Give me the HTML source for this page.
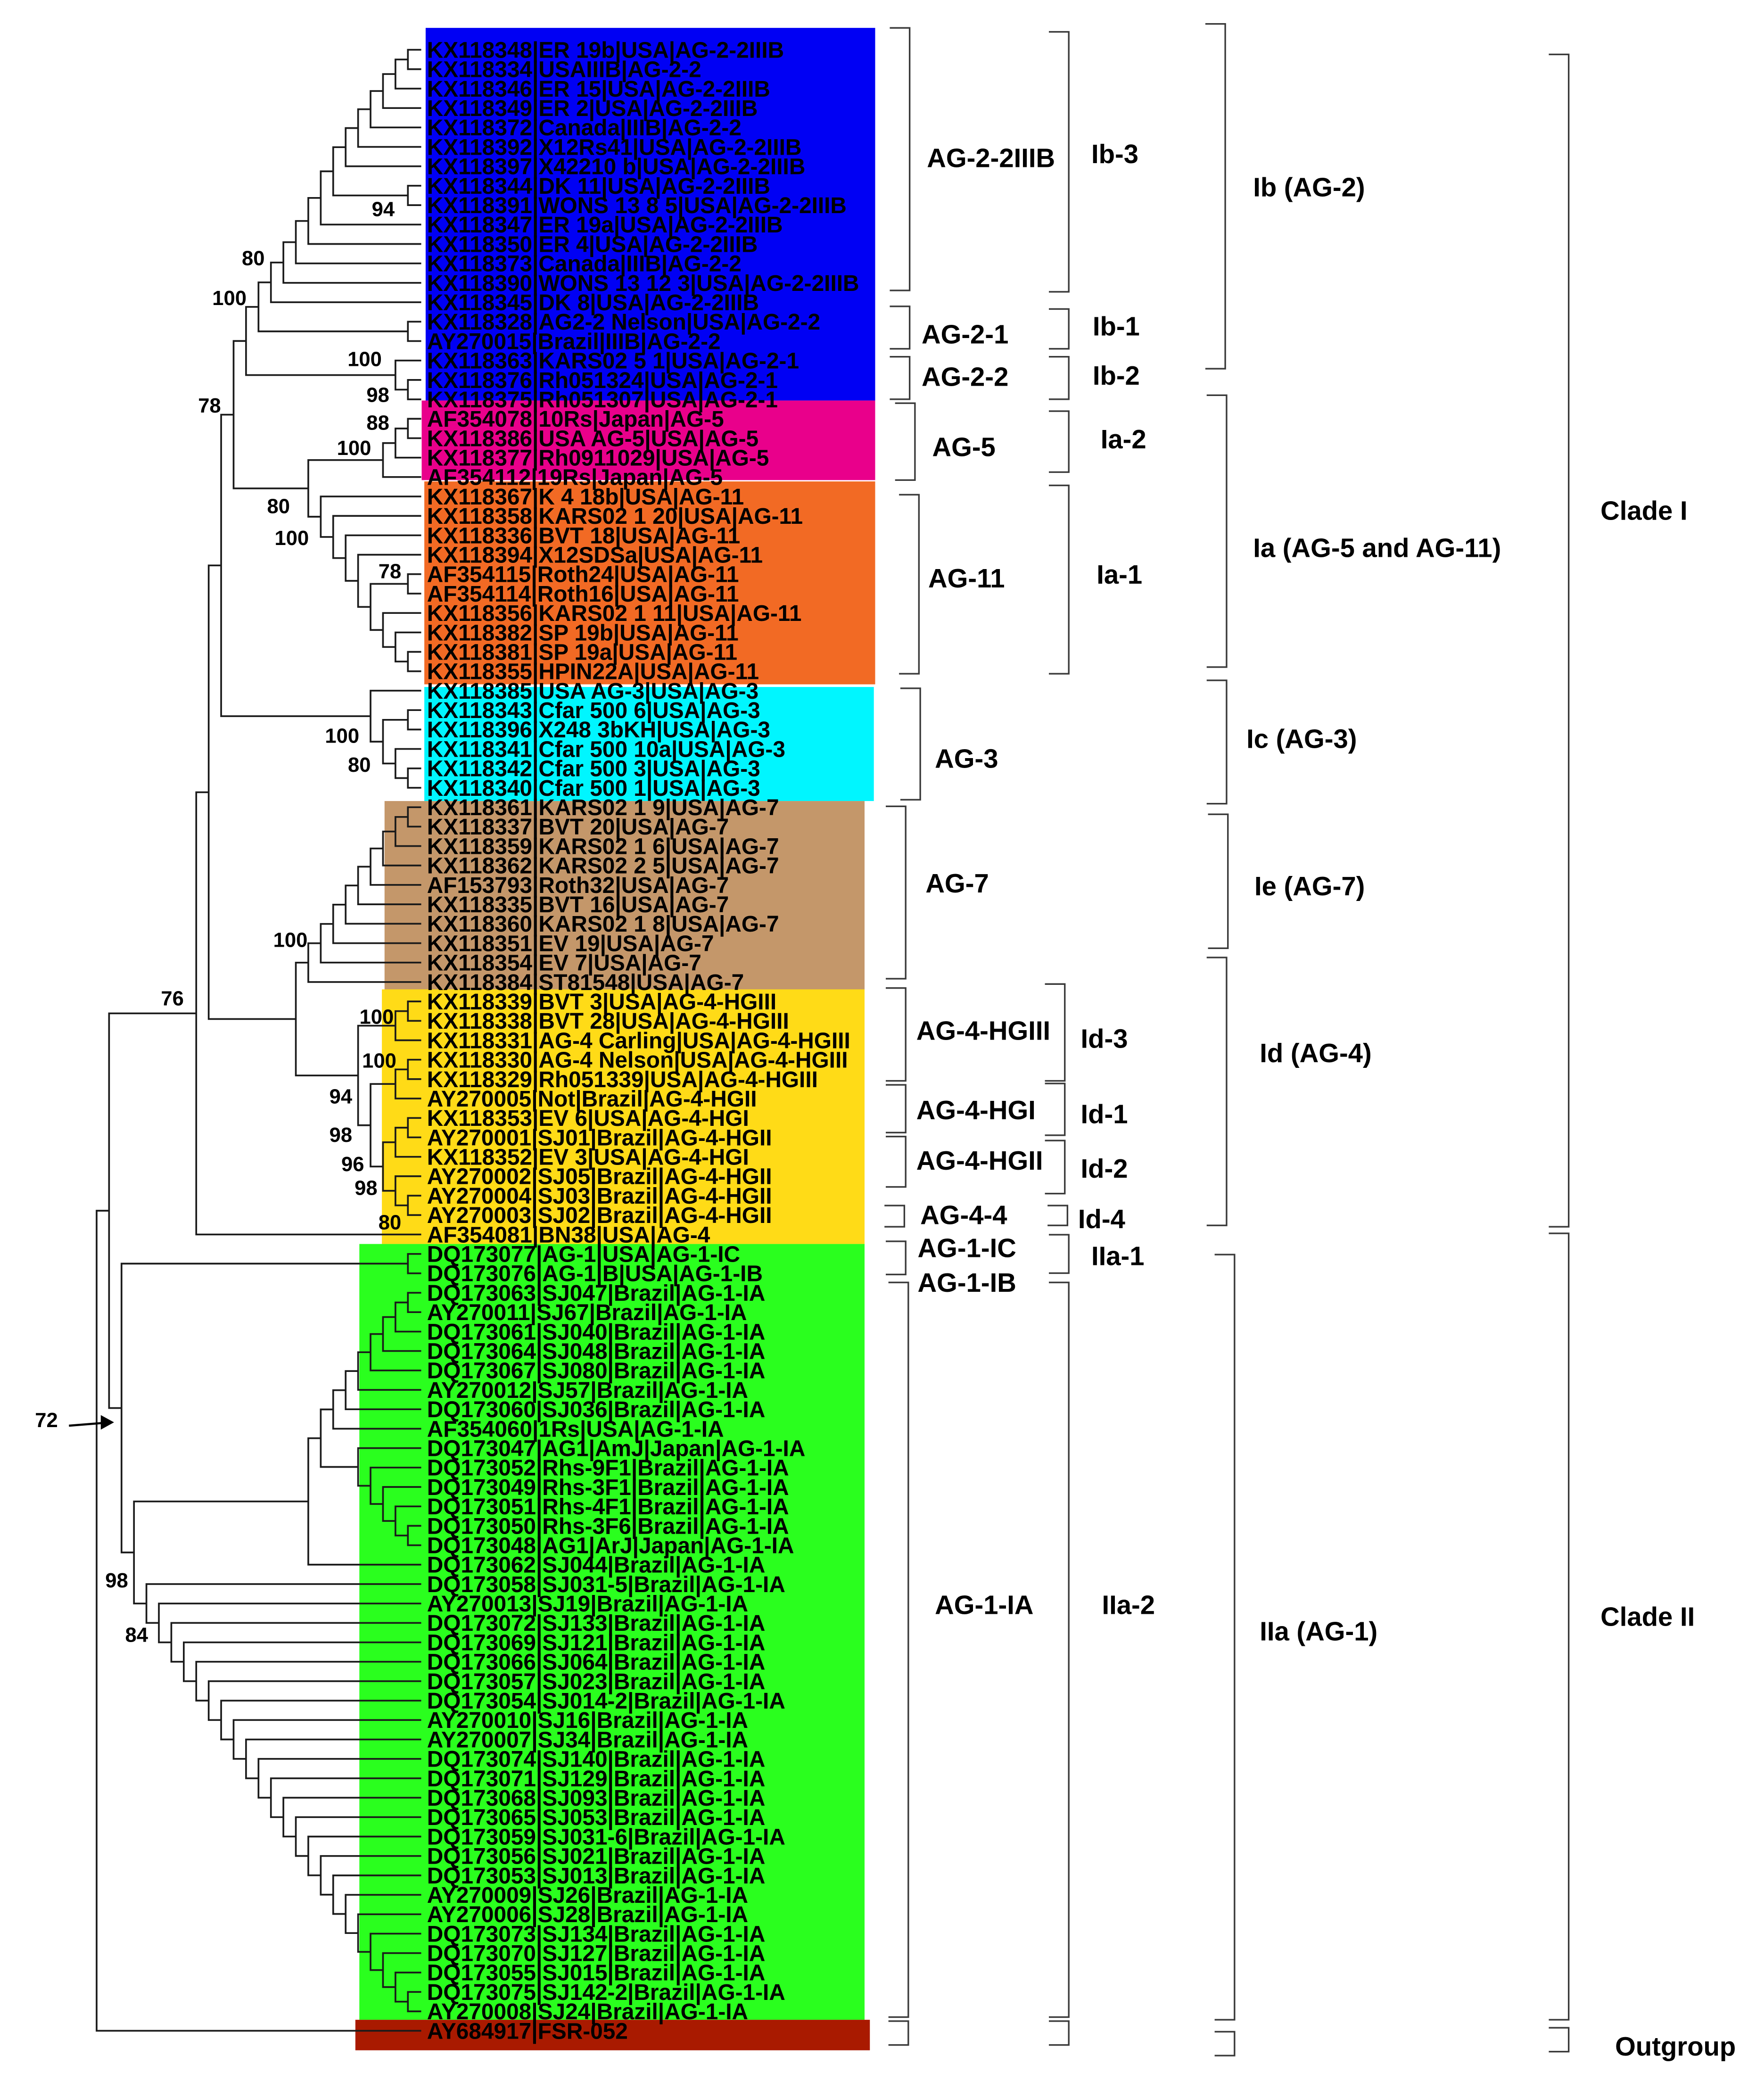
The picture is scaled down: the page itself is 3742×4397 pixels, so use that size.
<!DOCTYPE html>
<html>
<head>
<meta charset="utf-8">
<style>
html,body{margin:0;padding:0;background:#fff;}
svg{display:block;}
.leaf{font-family:"Liberation Sans",sans-serif;font-weight:bold;font-size:17px;fill:#000;}
.blab{font-family:"Liberation Sans",sans-serif;font-weight:bold;font-size:20px;fill:#000;}
.boot{font-family:"Liberation Sans",sans-serif;font-weight:bold;font-size:15.5px;fill:#000;}
</style>
</head>
<body>
<svg id="fig" width="3742" height="4397" viewBox="0 0 1330.3 1563.1" xmlns="http://www.w3.org/2000/svg">
  <g id="boxes"></g>
  <g id="tree"></g>
  <g id="labels"></g>
  <g id="boots"></g>
  <g id="brackets"></g>
  <g>
    <text class="boot" x="35" y="1076" text-anchor="middle">72</text>
    <line x1="52" y1="1075" x2="77" y2="1073" stroke="#000" stroke-width="1.6"/>
    <polygon points="76,1067 86,1072.5 76,1078" fill="#000"/>
  </g>
</svg>
<script>
const NS = "http://www.w3.org/2000/svg";
const leaves = [
"KX118348|ER 19b|USA|AG-2-2IIIB","KX118334|USAIIIB|AG-2-2","KX118346|ER 15|USA|AG-2-2IIIB","KX118349|ER 2|USA|AG-2-2IIIB",
"KX118372|Canada|IIIB|AG-2-2","KX118392|X12Rs41|USA|AG-2-2IIIB","KX118397|X42210 b|USA|AG-2-2IIIB","KX118344|DK 11|USA|AG-2-2IIIB",
"KX118391|WONS 13 8 5|USA|AG-2-2IIIB","KX118347|ER 19a|USA|AG-2-2IIIB","KX118350|ER 4|USA|AG-2-2IIIB","KX118373|Canada|IIIB|AG-2-2",
"KX118390|WONS 13 12 3|USA|AG-2-2IIIB","KX118345|DK 8|USA|AG-2-2IIIB","KX118328|AG2-2 Nelson|USA|AG-2-2","AY270015|Brazil|IIIB|AG-2-2",
"KX118363|KARS02 5 1|USA|AG-2-1","KX118376|Rh051324|USA|AG-2-1","KX118375|Rh051307|USA|AG-2-1",
"AF354078|10Rs|Japan|AG-5","KX118386|USA AG-5|USA|AG-5","KX118377|Rh0911029|USA|AG-5","AF354112|19Rs|Japan|AG-5",
"KX118367|K 4 18b|USA|AG-11","KX118358|KARS02 1 20|USA|AG-11","KX118336|BVT 18|USA|AG-11","KX118394|X12SDSa|USA|AG-11",
"AF354115|Roth24|USA|AG-11","AF354114|Roth16|USA|AG-11","KX118356|KARS02 1 11|USA|AG-11","KX118382|SP 19b|USA|AG-11",
"KX118381|SP 19a|USA|AG-11","KX118355|HPIN22A|USA|AG-11",
"KX118385|USA AG-3|USA|AG-3","KX118343|Cfar 500 6|USA|AG-3","KX118396|X248 3bKH|USA|AG-3","KX118341|Cfar 500 10a|USA|AG-3",
"KX118342|Cfar 500 3|USA|AG-3","KX118340|Cfar 500 1|USA|AG-3",
"KX118361|KARS02 1 9|USA|AG-7","KX118337|BVT 20|USA|AG-7","KX118359|KARS02 1 6|USA|AG-7","KX118362|KARS02 2 5|USA|AG-7",
"AF153793|Roth32|USA|AG-7","KX118335|BVT 16|USA|AG-7","KX118360|KARS02 1 8|USA|AG-7","KX118351|EV 19|USA|AG-7",
"KX118354|EV 7|USA|AG-7","KX118384|ST81548|USA|AG-7",
"KX118339|BVT 3|USA|AG-4-HGIII","KX118338|BVT 28|USA|AG-4-HGIII","KX118331|AG-4 Carling|USA|AG-4-HGIII","KX118330|AG-4 Nelson|USA|AG-4-HGIII",
"KX118329|Rh051339|USA|AG-4-HGIII","AY270005|Not|Brazil|AG-4-HGII","KX118353|EV 6|USA|AG-4-HGI","AY270001|SJ01|Brazil|AG-4-HGII",
"KX118352|EV 3|USA|AG-4-HGI","AY270002|SJ05|Brazil|AG-4-HGII","AY270004|SJ03|Brazil|AG-4-HGII","AY270003|SJ02|Brazil|AG-4-HGII",
"AF354081|BN38|USA|AG-4",
"DQ173077|AG-1|USA|AG-1-IC","DQ173076|AG-1|B|USA|AG-1-IB","DQ173063|SJ047|Brazil|AG-1-IA","AY270011|SJ67|Brazil|AG-1-IA",
"DQ173061|SJ040|Brazil|AG-1-IA","DQ173064|SJ048|Brazil|AG-1-IA","DQ173067|SJ080|Brazil|AG-1-IA","AY270012|SJ57|Brazil|AG-1-IA",
"DQ173060|SJ036|Brazil|AG-1-IA","AF354060|1Rs|USA|AG-1-IA","DQ173047|AG1|AmJ|Japan|AG-1-IA","DQ173052|Rhs-9F1|Brazil|AG-1-IA",
"DQ173049|Rhs-3F1|Brazil|AG-1-IA","DQ173051|Rhs-4F1|Brazil|AG-1-IA","DQ173050|Rhs-3F6|Brazil|AG-1-IA","DQ173048|AG1|ArJ|Japan|AG-1-IA",
"DQ173062|SJ044|Brazil|AG-1-IA","DQ173058|SJ031-5|Brazil|AG-1-IA","AY270013|SJ19|Brazil|AG-1-IA","DQ173072|SJ133|Brazil|AG-1-IA",
"DQ173069|SJ121|Brazil|AG-1-IA","DQ173066|SJ064|Brazil|AG-1-IA","DQ173057|SJ023|Brazil|AG-1-IA","DQ173054|SJ014-2|Brazil|AG-1-IA",
"AY270010|SJ16|Brazil|AG-1-IA","AY270007|SJ34|Brazil|AG-1-IA","DQ173074|SJ140|Brazil|AG-1-IA","DQ173071|SJ129|Brazil|AG-1-IA",
"DQ173068|SJ093|Brazil|AG-1-IA","DQ173065|SJ053|Brazil|AG-1-IA","DQ173059|SJ031-6|Brazil|AG-1-IA","DQ173056|SJ021|Brazil|AG-1-IA",
"DQ173053|SJ013|Brazil|AG-1-IA","AY270009|SJ26|Brazil|AG-1-IA","AY270006|SJ28|Brazil|AG-1-IA","DQ173073|SJ134|Brazil|AG-1-IA",
"DQ173070|SJ127|Brazil|AG-1-IA","DQ173055|SJ015|Brazil|AG-1-IA","DQ173075|SJ142-2|Brazil|AG-1-IA","AY270008|SJ24|Brazil|AG-1-IA",
"AY684917|FSR-052"
];
// tree topology (leaf numbers 1-based)
const B13 = "(((((((((((((1,2),3),4),5),6),7),(8,9)),10),11),12),13),14),(15,16))";
const B14 = "(" + B13 + ",(17,(18,19)))";
const P5 = "(((20,21),22),23)";
const O11 = "(24,(25,(26,(27,((28,29),(30,(31,(32,33))))))))";
const N15 = "(" + B14 + ",(" + P5 + "," + O11 + "))";
const C3 = "(34,((35,36),(37,(38,39))))";
const N16 = "(" + N15 + "," + C3 + ")";
const T7 = "(((((((((40,41),42),43),44),45),46),47),48),49)";
const Y4 = "(((50,51),52),(((53,54),55),(((56,57),58),(59,(60,61)))))";
const CI = "((" + N16 + ",(" + T7 + "," + Y4 + ")),62)";
const R1 = "(((((((65,66),67),68),69),70),71),72)";
const S1 = "(73,(74,(75,(76,(77,78)))))";
const Z1 = "((" + R1 + "," + S1 + "),79)";
const caterpillarLeaves = [80,81,82,83,84,85,86,87,88,89,90,91,92,93,94,95,96,97,98,99,100];
let W1 = "(101,102)";
for (let k = caterpillarLeaves.length - 1; k >= 0; k--) W1 = "(" + caterpillarLeaves[k] + "," + W1 + ")";
const CII = "((63,64),(" + Z1 + "," + W1 + "))";
const newick = "((" + CI + "," + CII + "),103)";
// bootstrap supports: [value, x, y]
const bootValues = ["94","80","100","100","98","78","88","100","80","100","78","100","80","100","76","100","100","94","98","96","98","80","98","84"];
const bootPos = [[289,163],[191,200],[173,230],[275,276],[285,303],[158,311],[285,324],[267,343],[210,387],[220,411],[294,436],[258,560],[271,582],[219,714],[130,758],[284,772],[286,805],[257,832],[257,861],[266,883],[276,901],[294,927],[88,1197],[103,1238]];
// colored boxes
const boxes = [
 ["blue-box","#0000f4",321,21,660,302],["pink-box","#e9008b",318,302,660,362],["orange-box","#f26a24",320,363,660,516],
 ["cyan-box","#00f6ff",320,518,659,604],["tan-box","#c4976a",290,604,652,746],["yellow-box","#ffdb17",288,746,652,938],
 ["green-box","#2aff1e",271,938,652,1523],["darkred-box","#a91a00",268,1523,656,1546]
];
const bracketCols = [
 [[686,21,219],[686,231,263],[686,269,301],[690,304,362],[693,373,508],[694,519,603],[683,608,738],[683,745,815],[683,818,854],[683,857,895],[682,909,925],[683,936,961],[685,967,1521],[685,1524,1542]],
 [[806,24,220],[806,233,263],[806,269,301],[806,310,356],[806,366,508],[803,742,815],[803,817,856],[803,860,900],[805,909,924],[806,931,960],[806,967,1521],[806,1524,1542]],
 [[924,18,278],[925,298,503],[925,513,606],[926,614,715],[925,722,924],[931,946,1523],[931,1532,1550]],
 [[1183,41,925],[1183,930,1523],[1183,1529,1547]]
];
const bracketLabels = [
 ["AG-2-2IIIB",699,119],["AG-2-1",695,252],["AG-2-2",695,284],["AG-5",703,337],["AG-11",700,436],["AG-3",705,572],["AG-7",698,666],
 ["AG-4-HGIII",691,777],["AG-4-HGI",691,837],["AG-4-HGII",691,875],["AG-4-4",694,916],["AG-1-IC",692,941],["AG-1-IB",692,967],["AG-1-IA",705,1210],
 ["Ib-3",823,116],["Ib-1",824,246],["Ib-2",824,283],["Ia-2",830,331],["Ia-1",827,433],["Id-3",815,783],["Id-1",815,840],["Id-2",815,881],["Id-4",813,919],["IIa-1",823,947],["IIa-2",831,1210],
 ["Ib (AG-2)",945,141],["Ia (AG-5 and AG-11)",945,413],["Ic (AG-3)",940,557],["Ie (AG-7)",946,668],["Id (AG-4)",950,794],["IIa (AG-1)",950,1230],
 ["Clade I",1207,385],["Clade II",1207,1219],["Outgroup",1218,1543]
];

const ROW0 = 37.5, ROWSTEP = 14.645, TIP = 317, LEVEL = 9.39;
function yRow(i){ return ROW0 + ROWSTEP * i; }
function xLevel(h){ return TIP - LEVEL * h; }

function parse(s){
  let i = 0;
  function node(){
    if (s[i] === "("){
      i++;
      const kids = [node()];
      while (s[i] === ","){ i++; kids.push(node()); }
      i++;
      return {kids: kids};
    }
    let n = "";
    while (/[0-9]/.test(s[i])) n += s[i++];
    return {leaf: parseInt(n, 10) - 1};
  }
  return node();
}
function lay(n){
  if (n.leaf !== undefined){ n.h = 0; n.x = TIP; n.y = yRow(n.leaf); return; }
  n.kids.forEach(lay);
  n.h = Math.max.apply(null, n.kids.map(k => k.h)) + 1;
  n.x = xLevel(n.h);
  n.y = (n.kids[0].y + n.kids[n.kids.length - 1].y) / 2;
}
function mk(tag, attrs, parent){
  const e = document.createElementNS(NS, tag);
  for (const k in attrs) e.setAttribute(k, attrs[k]);
  parent.appendChild(e);
  return e;
}

const gBoxes = document.getElementById("boxes");
boxes.forEach(b => {
  const r = mk("rect", {x:b[2], y:b[3], width:b[4]-b[2], height:b[5]-b[3], fill:b[1]}, gBoxes);
  
  
});

const root = parse(newick);
lay(root);
const gTree = document.getElementById("tree");
let d = "";
(function draw(n){
  if (n.leaf !== undefined) return;
  d += "M" + n.x.toFixed(2) + " " + n.kids[0].y.toFixed(2) + "V" + n.kids[n.kids.length-1].y.toFixed(2);
  n.kids.forEach(k => {
    d += "M" + n.x.toFixed(2) + " " + k.y.toFixed(2) + "H" + k.x.toFixed(2);
    draw(k);
  });
})(root);
const tp = mk("path", {d:d, stroke:"#1a1a1a", "stroke-width":"1.3", fill:"none", "stroke-linecap":"square"}, gTree);



const gLab = document.getElementById("labels");
leaves.forEach((name, i) => {
  const t = mk("text", {x:322, y:(yRow(i) + 6).toFixed(2), class:"leaf"}, gLab);
  t.textContent = name;
  
  
});

const gBoot = document.getElementById("boots");
bootValues.forEach((v, i) => {
  const t = mk("text", {x:bootPos[i][0], y:bootPos[i][1], class:"boot", "text-anchor":"middle"}, gBoot);
  t.textContent = v;
  
  
});

const gBr = document.getElementById("brackets");
let bd = "";
bracketCols.forEach(col => col.forEach(b => {
  bd += "M" + (b[0]-15) + " " + b[1] + "H" + b[0] + "V" + b[2] + "H" + (b[0]-15);
}));
const bp = mk("path", {d:bd, stroke:"#3a3a3a", "stroke-width":"1.2", fill:"none"}, gBr);


bracketLabels.forEach(l => {
  const t = mk("text", {x:l[1], y:l[2] + 7, class:"blab"}, gBr);
  t.textContent = l[0];
  
  
});
</script>
</body>
</html>
